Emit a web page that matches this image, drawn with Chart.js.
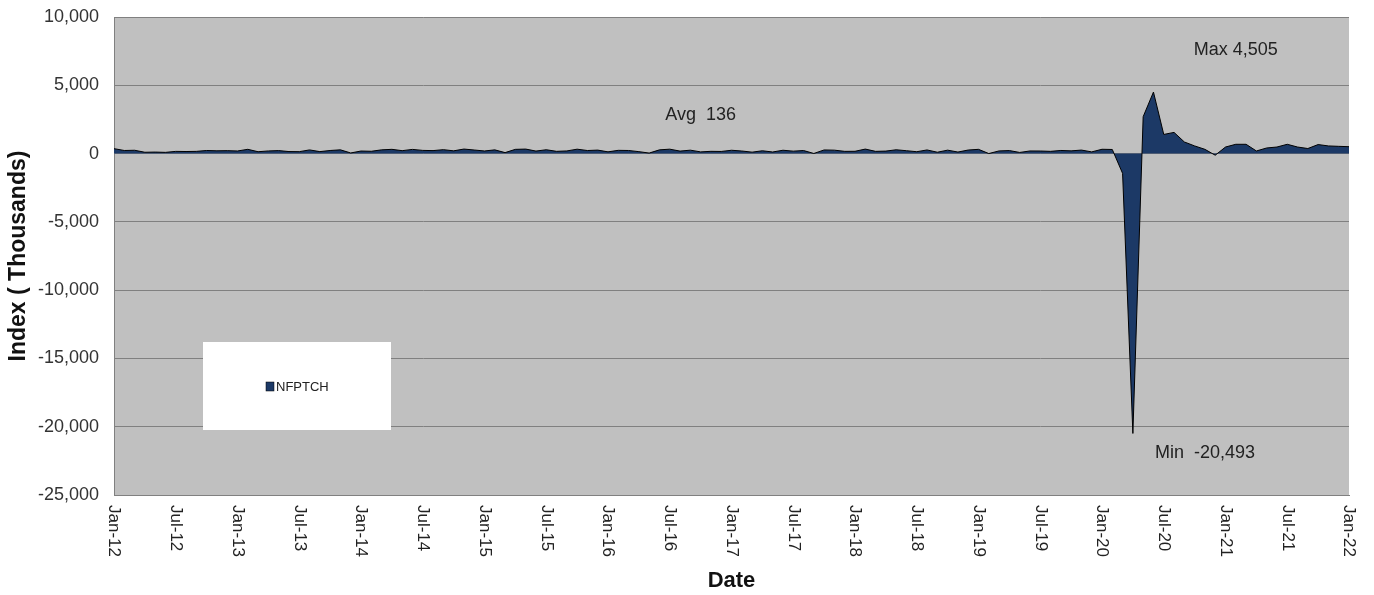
<!DOCTYPE html>
<html>
<head>
<meta charset="utf-8">
<script src="https://cdn.jsdelivr.net/npm/chart.js@4.4.1/dist/chart.umd.min.js"></script>
<style>
  body { margin: 0; background: #fff; }
  #wrap { width: 1374px; height: 595px; position: relative; }
</style>
</head>
<body>
<div id="wrap"><canvas id="myChart"></canvas></div>
<script>
// monthly change in nonfarm payrolls, thousands
const nfp2012 = [360, 226, 243, 96, 110, 88, 160, 150, 161, 225, 203, 214];
const nfp2013 = [190, 311, 135, 192, 218, 146, 140, 268, 143, 226, 274, 45];
const nfp2014 = [187, 168, 272, 310, 213, 306, 232, 218, 286, 200, 331, 261];
const nfp2015 = [190, 271, 70, 309, 330, 183, 280, 164, 194, 322, 223, 254];
const nfp2016 = [126, 237, 225, 141, 37, 272, 323, 181, 249, 124, 164, 155];
const nfp2017 = [243, 188, 104, 205, 116, 244, 177, 223, 7, 265, 249, 162];
const nfp2018 = [167, 328, 163, 182, 278, 209, 136, 265, 98, 251, 111, 260];
const nfp2019 = [310, 1, 195, 220, 82, 191, 188, 162, 228, 198, 256, 124];
const nfp2020 = [315, 300, -1450, -20493, 2700, 4505, 1400, 1550, 850, 560, 310, -120];
const nfp2021 = [480, 680, 680, 190, 410, 480, 680, 480, 370, 660, 560, 530];
const nfp2022 = [504];

const monthNames = ['Jan','Feb','Mar','Apr','May','Jun','Jul','Aug','Sep','Oct','Nov','Dec'];
const yearLabels = ['12','13','14','15','16','17','18','19','20','21','22'];
const yTicks = [-25000, -20000, -15000, -10000, -5000, 0, 5000, 10000];

const values = [].concat(nfp2012, nfp2013, nfp2014, nfp2015, nfp2016,
  nfp2017, nfp2018, nfp2019, nfp2020, nfp2021, nfp2022);
const categories = values.map((v, i) => monthNames[i % 12] + '-' + yearLabels[Math.floor(i / 12)]);

const FONT = '"Liberation Sans", Arial, sans-serif';
const navy = '#1c3966';

const maxVal = Math.max(...values);
const minVal = Math.min(...values);
const avgVal = Math.round(values.reduce((a, b) => a + b, 0) / values.length);
const fmt = v => v.toLocaleString('en-US');

// label text + where to anchor it (category index, value)
const notes = [
  { text: 'Avg  ' + fmt(avgVal), i: 57, v: 2850 },
  { text: 'Max ' + fmt(maxVal), i: 109, v: 7600 },
  { text: 'Min  ' + fmt(minVal), i: 106, v: -21900 }
];

const plotBg = {
  id: 'plotBg',
  beforeDraw(chart) {
    const { ctx, chartArea: a } = chart;
    ctx.save();
    ctx.fillStyle = '#c0c0c0';
    ctx.fillRect(a.left, a.top, a.right - a.left, a.bottom - a.top);
    ctx.restore();
  }
};

const extras = {
  id: 'extras',
  afterDraw(chart) {
    const { ctx, chartArea: a } = chart;
    const xs = chart.scales.x, ys = chart.scales.y;
    ctx.save();

    // x tick labels, turned clockwise
    ctx.font = '17px ' + FONT;
    ctx.fillStyle = '#222';
    ctx.textAlign = 'left';
    ctx.textBaseline = 'middle';
    xs.ticks.forEach((t, i) => {
      if (!t.label) return;
      ctx.save();
      ctx.translate(xs.getPixelForTick(i), xs.top + 10);
      ctx.rotate(Math.PI / 2);
      ctx.fillText(t.label, 0, 0);
      ctx.restore();
    });

    // avg / max / min notes
    ctx.font = '18px ' + FONT;
    ctx.textAlign = 'center';
    notes.forEach(n => {
      ctx.fillText(n.text, xs.getPixelForValue(n.i), ys.getPixelForValue(n.v));
    });

    // legend box
    const bx = a.left + 89, by = a.top + 325;
    ctx.fillStyle = '#fff';
    ctx.fillRect(bx, by, 188, 88);
    const ds = chart.data.datasets[0];
    ctx.fillStyle = ds.backgroundColor;
    ctx.fillRect(bx + 63, by + 40, 8, 9);
    ctx.strokeStyle = '#000';
    ctx.lineWidth = 0.5;
    ctx.strokeRect(bx + 63, by + 40, 8, 9);
    ctx.fillStyle = '#222';
    ctx.font = '13px ' + FONT;
    ctx.textAlign = 'left';
    ctx.fillText(ds.label, bx + 73, by + 45);
    ctx.restore();
  }
};

new Chart(document.getElementById('myChart'), {
  type: 'line',
  data: {
    labels: categories,
    datasets: [{
      label: 'NFPTCH',
      data: values,
      fill: 'origin',
      backgroundColor: navy,
      borderColor: '#000',
      borderWidth: 1,
      pointRadius: 0,
      tension: 0
    }]
  },
  options: {
    responsive: true,
    maintainAspectRatio: false,
    animation: false,
    layout: { padding: { left: 0, right: 25, top: 17, bottom: 0 } },
    plugins: {
      legend: { display: false },
      tooltip: { enabled: false }
    },
    scales: {
      x: {
        offset: false,
        afterFit(s) { s.height = 100; },
        ticks: {
          autoSkip: false,
          minRotation: 90,
          maxRotation: 90,
          color: 'rgba(0,0,0,0)',
          font: { family: FONT, size: 17 },
          callback(v, i) { return i % 6 === 0 ? this.getLabelForValue(v) : ''; }
        },
        grid: { display: false, drawTicks: false },
        border: { display: true, color: '#808080', width: 1 },
        title: {
          display: true,
          text: 'Date',
          color: '#111',
          font: { family: FONT, size: 22, weight: 'bold' },
          padding: { top: 0, bottom: 1 }
        }
      },
      y: {
        min: yTicks[0],
        max: yTicks[yTicks.length - 1],
        afterFit(s) { s.width = 114; },
        afterBuildTicks(s) { s.ticks = yTicks.map(v => ({ value: v })); },
        ticks: {
          padding: 0,
          color: '#333',
          font: { family: FONT, size: 18 },
          callback: v => fmt(v)
        },
        grid: { color: '#808080', lineWidth: 1, drawTicks: true, tickLength: 15, tickColor: 'rgba(0,0,0,0)' },
        border: { display: true, color: '#808080', width: 1 },
        title: {
          display: true,
          text: 'Index ( Thousands)',
          color: '#111',
          font: { family: FONT, size: 23, weight: 'bold' },
          padding: { top: 5, bottom: 0 }
        }
      }
    }
  },
  plugins: [plotBg, extras]
});
</script>
</body>
</html>
